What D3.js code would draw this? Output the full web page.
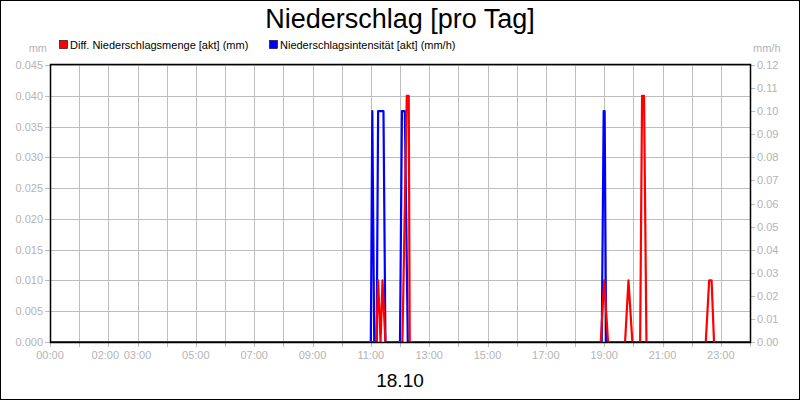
<!DOCTYPE html>
<html>
<head>
<meta charset="utf-8">
<script src="https://cdnjs.cloudflare.com/ajax/libs/d3/7.8.5/d3.min.js"></script>
<style>
  body { margin: 0; background: #fff; }
  svg { display: block; font-family: "Liberation Sans", Arial, sans-serif; }
  .tick-label { fill: #b4b4b4; font-size: 11px; }
</style>
</head>
<body>
<div id="chart"></div>
<script>
// Diff. Niederschlagsmenge [akt] (mm), left axis
const mengeTimes  = ["00:00", "11:11", "11:15", "11:20", "11:24", "11:30", "12:05", "12:14", "12:18", "12:20",
                     "18:53", "19:00", "19:08", "19:43", "19:50", "19:58", "20:14", "20:18", "20:22", "20:27",
                     "22:29", "22:36", "22:41", "22:46", "24:00"];
const mengeValues = [0, 0, 0.01, 0, 0.01, 0, 0, 0.04, 0.04, 0,
                     0, 0.01, 0, 0, 0.01, 0, 0, 0.04, 0.04, 0,
                     0, 0.01, 0.01, 0, 0];

// Niederschlagsintensität [akt] (mm/h), right axis
const intensTimes  = ["00:00", "11:00", "11:03", "11:07", "11:12", "11:15", "11:26", "11:30",
                      "12:00", "12:04", "12:10", "12:16", "18:55", "18:59", "19:01", "19:04", "24:00"];
const intensValues = [0, 0, 0.10, 0, 0, 0.10, 0.10, 0,
                      0, 0.10, 0.10, 0, 0, 0.10, 0.10, 0, 0];

const leftTicks  = [0, 0.005, 0.010, 0.015, 0.020, 0.025, 0.030, 0.035, 0.040, 0.045];
const rightTicks = [0, 0.01, 0.02, 0.03, 0.04, 0.05, 0.06, 0.07, 0.08, 0.09, 0.10, 0.11, 0.12];
const hourTicks  = [0, 1, 2, 3, 4, 5, 6, 7, 8, 9, 10, 11, 12, 13, 14, 15, 16, 17, 18, 19, 20, 21, 22, 23, 24];
const hourLabels = ["00:00", "02:00", "03:00", "05:00", "07:00", "09:00", "11:00",
                    "13:00", "15:00", "17:00", "19:00", "21:00", "23:00"];

const W = 800, H = 400;
const margin = {top: 65, right: 50, bottom: 58, left: 50};
const width = W - margin.left - margin.right,
      height = H - margin.top - margin.bottom;

// "hh:mm" -> minutes of the day
function toMinutes(s) {
    let p = s.split(":");
    return +p[0] * 60 + +p[1];
}

let xScale = d3.scaleLinear().domain([0, 1440]).range([0, width]);
let yLeft = d3.scaleLinear().domain([0, 0.045]).range([height, 0]);
let yRight = d3.scaleLinear().domain([0, 0.12]).range([height, 0]);

let svg = d3.select("#chart").append("svg")
    .attr("width", W).attr("height", H);

svg.append("rect")
    .attr("x", 0.5).attr("y", 0.5)
    .attr("width", W - 1).attr("height", H - 1)
    .attr("fill", "#fff").attr("stroke", "#000");

svg.append("text")
    .attr("x", W / 2).attr("y", 28)
    .attr("text-anchor", "middle")
    .style("font-size", "27px")
    .text("Niederschlag [pro Tag]");

// legend
let legend = [
    {label: "Diff. Niederschlagsmenge [akt] (mm)", color: "#ff0000", x: 59},
    {label: "Niederschlagsintensität [akt] (mm/h)", color: "#0000ff", x: 269}
];
let lg = svg.append("g").selectAll("g").data(legend).enter().append("g")
    .attr("transform", d => `translate(${d.x}, 40)`);
lg.append("rect")
    .attr("x", 0.5).attr("y", 0.5).attr("width", 8).attr("height", 8)
    .attr("fill", d => d.color).attr("stroke", "#000").attr("stroke-width", 0.6);
lg.append("text")
    .attr("x", 11).attr("y", 8.5)
    .style("font-size", "11px")
    .text(d => d.label);

// unit labels
svg.append("text").attr("class", "tick-label")
    .attr("x", 47).attr("y", 52).attr("text-anchor", "end").text("mm");
svg.append("text").attr("class", "tick-label")
    .attr("x", 753).attr("y", 52).text("mm/h");

let g = svg.append("g")
    .attr("transform", `translate(${margin.left}, ${margin.top})`);

// grid
g.append("g").selectAll("line").data(hourTicks).enter().append("line")
    .attr("x1", d => Math.round(xScale(d * 60)) + 0.5)
    .attr("x2", d => Math.round(xScale(d * 60)) + 0.5)
    .attr("y1", 0).attr("y2", height + 5)
    .attr("stroke", "#bdbdbd");
g.append("g").selectAll("line").data(leftTicks).enter().append("line")
    .attr("x1", -5).attr("x2", width)
    .attr("y1", d => Math.round(yLeft(d)) + 0.5)
    .attr("y2", d => Math.round(yLeft(d)) + 0.5)
    .attr("stroke", "#bdbdbd");

// right ticks
g.append("g").selectAll("line").data(rightTicks).enter().append("line")
    .attr("x1", width).attr("x2", width + 5)
    .attr("y1", d => Math.round(yRight(d)) + 0.5)
    .attr("y2", d => Math.round(yRight(d)) + 0.5)
    .attr("stroke", "#bdbdbd");

// tick labels
g.append("g").selectAll("text").data(leftTicks).enter().append("text")
    .attr("class", "tick-label")
    .attr("x", -7).attr("y", d => yLeft(d) + 4)
    .attr("text-anchor", "end")
    .text(d => d3.format(".3f")(d));
g.append("g").selectAll("text").data(rightTicks).enter().append("text")
    .attr("class", "tick-label")
    .attr("x", width + 7).attr("y", d => yRight(d) + 4)
    .text(d => d3.format(".2f")(d));
g.append("g").selectAll("text").data(hourLabels).enter().append("text")
    .attr("class", "tick-label")
    .attr("x", d => xScale(toMinutes(d)) - (d === "02:00" ? 3 : 0))
    .attr("y", height + 17)
    .attr("text-anchor", "middle")
    .text(d => d);

// series
let intensData = intensTimes.map((t, i) => ({t: toMinutes(t), v: intensValues[i]}));
let mengeData = mengeTimes.map((t, i) => ({t: toMinutes(t), v: mengeValues[i]}));

g.append("path").datum(intensData)
    .attr("fill", "none").attr("stroke", "#0000ff").attr("stroke-width", 2.2)
    .attr("stroke-linejoin", "round")
    .attr("d", d3.line().x(d => xScale(d.t)).y(d => yRight(d.v)));
g.append("path").datum(mengeData)
    .attr("fill", "none").attr("stroke", "#ff0000").attr("stroke-width", 2.2)
    .attr("stroke-linejoin", "round")
    .attr("d", d3.line().x(d => xScale(d.t)).y(d => yLeft(d.v)));

// frame
g.append("rect")
    .attr("x", 0.5).attr("y", -0.5)
    .attr("width", width).attr("height", height + 1)
    .attr("fill", "none").attr("stroke", "#000").attr("stroke-width", 1.5);

svg.append("text")
    .attr("x", W / 2).attr("y", 387)
    .attr("text-anchor", "middle")
    .style("font-size", "19px")
    .text("18.10");
</script>
</body>
</html>
